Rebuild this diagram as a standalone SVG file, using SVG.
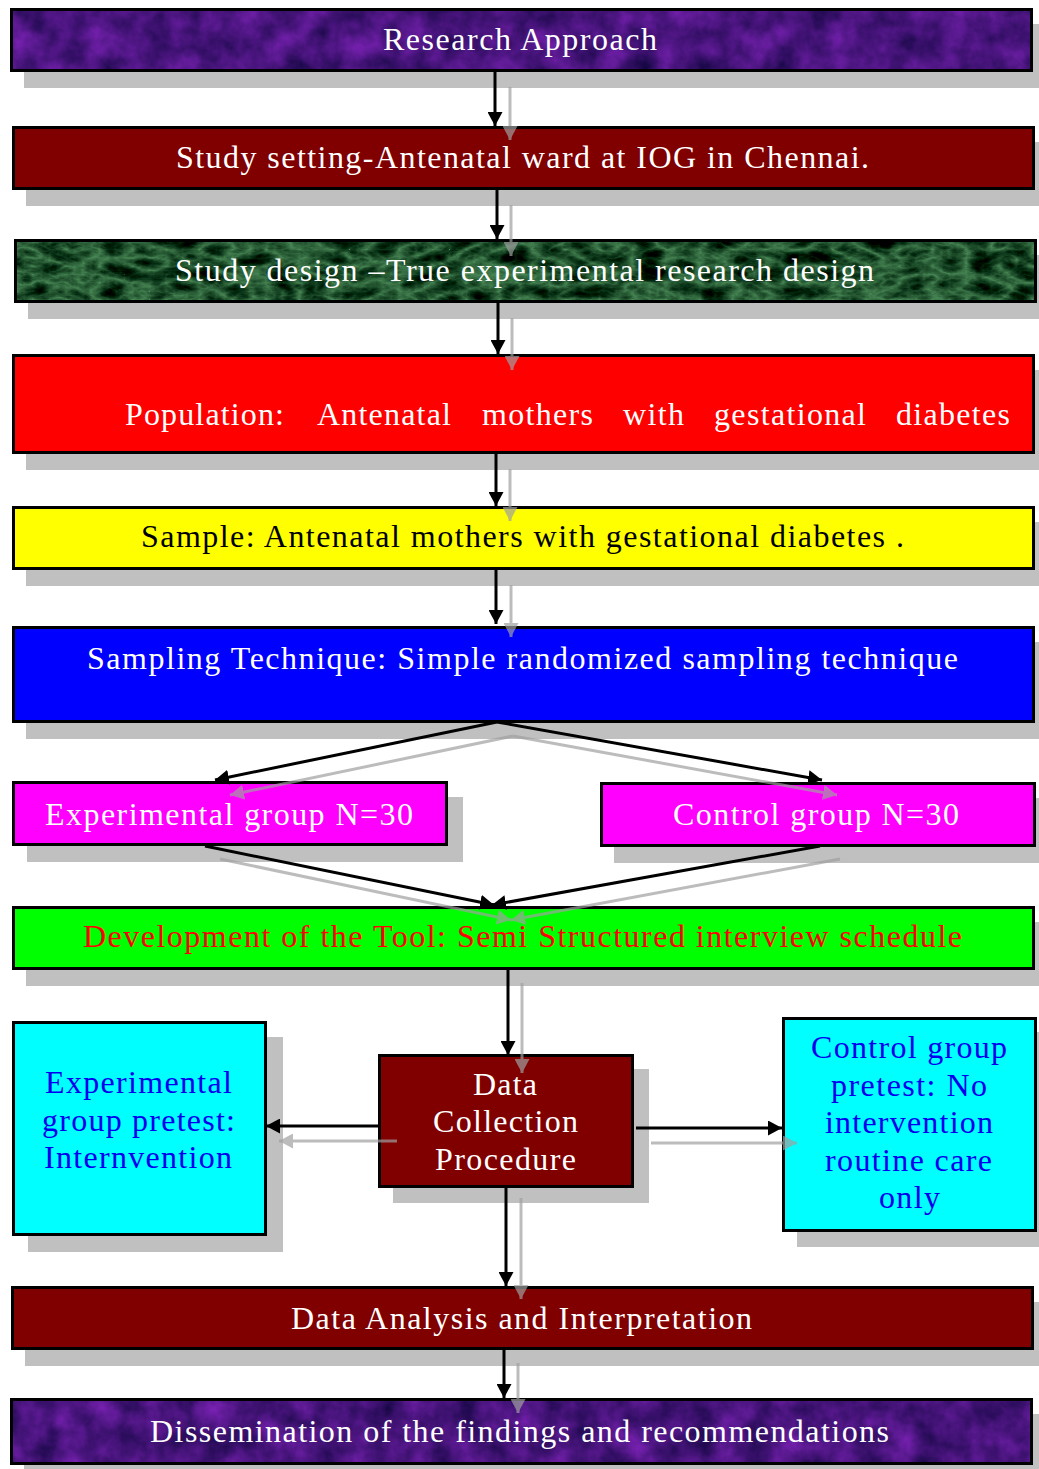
<svg xmlns="http://www.w3.org/2000/svg" width="1039" height="1469" viewBox="0 0 1039 1469">
<style>
.sh{fill:#c0c0c0}
.bx{stroke:#000;stroke-width:3}
.t{font-family:"Liberation Serif","Times New Roman",serif;font-size:32px}
.w{fill:#fff}
.k{fill:#000}
.r{fill:#ff0000}
.b{fill:#0000ee}
.c{fill:none;stroke:#000;stroke-width:3}
.g{fill:none;stroke:#a0a0a0;stroke-width:3}
</style>
<defs>
<marker id="ah" markerUnits="userSpaceOnUse" markerWidth="14" markerHeight="15" viewBox="0 0 14 15" refX="14" refY="7.5" orient="auto"><path d="M0,0 L14,7.5 L0,15 z" fill="#000"/></marker>
<marker id="ag" markerUnits="userSpaceOnUse" markerWidth="14" markerHeight="15" viewBox="0 0 14 15" refX="14" refY="7.5" orient="auto"><path d="M0,0 L14,7.5 L0,15 z" fill="#a0a0a0"/></marker>
<filter id="purple" x="0" y="0" width="1" height="1" color-interpolation-filters="sRGB">
<feTurbulence type="fractalNoise" baseFrequency="0.035" numOctaves="4" seed="3" result="n"/>
<feColorMatrix in="n" type="matrix" values="0.45 0 0 0 0.06  0.12 0 0 0 0.02  0.5 0 0 0 0.24  0 0 0 0 1" result="c"/>
<feComposite in="c" in2="SourceGraphic" operator="in"/>
</filter>
<filter id="marble" x="0" y="0" width="1" height="1" color-interpolation-filters="sRGB">
<feTurbulence type="turbulence" baseFrequency="0.03 0.06" numOctaves="4" seed="7" result="n"/>
<feColorMatrix in="n" type="matrix" values="-0.6 0 0 0 0.3  -0.8 0 0 0 0.55  -0.6 0 0 0 0.35  0 0 0 0 1" result="c"/>
<feComposite in="c" in2="SourceGraphic" operator="in"/>
</filter>
</defs>
<rect width="1039" height="1469" fill="#fff"/>

<g id="shadows">
<rect class="sh" x="24" y="24" width="1023" height="64"/>
<rect class="sh" x="26" y="142" width="1023" height="64"/>
<rect class="sh" x="28" y="255" width="1023" height="64"/>
<rect class="sh" x="26" y="370" width="1023" height="100"/>
<rect class="sh" x="26" y="522" width="1023" height="64"/>
<rect class="sh" x="26" y="642" width="1023" height="97"/>
<rect class="sh" x="27" y="797" width="436" height="65"/>
<rect class="sh" x="614" y="798" width="436" height="65"/>
<rect class="sh" x="26" y="922" width="1023" height="64"/>
<rect class="sh" x="28" y="1037" width="255" height="215"/>
<rect class="sh" x="393" y="1069" width="256" height="134"/>
<rect class="sh" x="797" y="1032" width="255" height="215"/>
<rect class="sh" x="25" y="1302" width="1023" height="64"/>
<rect class="sh" x="24" y="1414" width="1023" height="60"/>
</g>

<g id="n1">
<rect x="11.5" y="9.5" width="1020" height="61" fill="#4b1a80"/>
<rect x="11.5" y="9.5" width="1020" height="61" fill="#4b1a80" filter="url(#purple)"/>
<rect class="bx" x="11.5" y="9.5" width="1020" height="61" fill="none"/>
</g>
<g id="n2"><rect class="bx" x="13.5" y="127.5" width="1020" height="61" fill="#800000"/></g>
<g id="n3">
<rect x="15.5" y="240.5" width="1020" height="61" fill="#1f5532"/>
<rect x="15.5" y="240.5" width="1020" height="61" fill="#1f5532" filter="url(#marble)"/>
<rect class="bx" x="15.5" y="240.5" width="1020" height="61" fill="none"/>
</g>
<g id="n4"><rect class="bx" x="13.5" y="355.5" width="1020" height="97" fill="#ff0000"/></g>
<g id="n5"><rect class="bx" x="13.5" y="507.5" width="1020" height="61" fill="#ffff00"/></g>
<g id="n6"><rect class="bx" x="13.5" y="627.5" width="1020" height="94" fill="#0000ff"/></g>
<g id="n7"><rect class="bx" x="13.5" y="782.5" width="433" height="62" fill="#ff00ff"/></g>
<g id="n8"><rect class="bx" x="601.5" y="783.5" width="433" height="62" fill="#ff00ff"/></g>
<g id="n9"><rect class="bx" x="13.5" y="907.5" width="1020" height="61" fill="#00ff00"/></g>
<g id="n10"><rect class="bx" x="13.5" y="1022.5" width="252" height="212" fill="#00ffff"/></g>
<g id="n11"><rect class="bx" x="379.5" y="1055.5" width="253" height="131" fill="#800000"/></g>
<g id="n12"><rect class="bx" x="783.5" y="1018.5" width="252" height="212" fill="#00ffff"/></g>
<g id="n13"><rect class="bx" x="12.5" y="1287.5" width="1020" height="61" fill="#800000"/></g>
<g id="n14">
<rect x="11.5" y="1399.5" width="1020" height="64" fill="#4b1a80"/>
<rect x="11.5" y="1399.5" width="1020" height="64" fill="#4b1a80" filter="url(#purple)"/>
<rect class="bx" x="11.5" y="1399.5" width="1020" height="64" fill="none"/>
</g>

<g id="connectors">
<line class="c" x1="495" y1="72" x2="495" y2="126" marker-end="url(#ah)"/>
<line class="c" x1="497" y1="190" x2="497" y2="239" marker-end="url(#ah)"/>
<line class="c" x1="498" y1="303" x2="498" y2="354" marker-end="url(#ah)"/>
<line class="c" x1="496" y1="454" x2="496" y2="506" marker-end="url(#ah)"/>
<line class="c" x1="496" y1="570" x2="496" y2="624" marker-end="url(#ah)"/>
<line class="c" x1="497" y1="722" x2="215" y2="780" marker-end="url(#ah)"/>
<line class="c" x1="497" y1="722" x2="822" y2="780" marker-end="url(#ah)"/>
<line class="c" x1="205" y1="846" x2="494" y2="905" marker-end="url(#ah)"/>
<line class="c" x1="820" y1="846" x2="492" y2="905" marker-end="url(#ah)"/>
<line class="c" x1="508" y1="970" x2="508" y2="1055" marker-end="url(#ah)"/>
<line class="c" x1="380" y1="1126" x2="266" y2="1126" marker-end="url(#ah)"/>
<line class="c" x1="636" y1="1128" x2="782" y2="1128" marker-end="url(#ah)"/>
<line class="c" x1="506" y1="1188" x2="506" y2="1286" marker-end="url(#ah)"/>
<line class="c" x1="504" y1="1350" x2="504" y2="1398" marker-end="url(#ah)"/>
<g opacity="0.7">
<line class="g" x1="510" y1="87" x2="510" y2="140" marker-end="url(#ag)"/>
<line class="g" x1="511" y1="205" x2="511" y2="256" marker-end="url(#ag)"/>
<line class="g" x1="512" y1="318" x2="512" y2="370" marker-end="url(#ag)"/>
<line class="g" x1="510" y1="469" x2="510" y2="521" marker-end="url(#ag)"/>
<line class="g" x1="511" y1="585" x2="511" y2="637" marker-end="url(#ag)"/>
<line class="g" x1="513" y1="736" x2="230" y2="795" marker-end="url(#ag)"/>
<line class="g" x1="513" y1="736" x2="837" y2="795" marker-end="url(#ag)"/>
<line class="g" x1="220" y1="859" x2="511" y2="920" marker-end="url(#ag)"/>
<line class="g" x1="840" y1="859" x2="511" y2="920" marker-end="url(#ag)"/>
<line class="g" x1="522" y1="983" x2="522" y2="1073" marker-end="url(#ag)"/>
<line class="g" x1="397" y1="1141" x2="279" y2="1141" marker-end="url(#ag)"/>
<line class="g" x1="651" y1="1143" x2="797" y2="1143" marker-end="url(#ag)"/>
<line class="g" x1="521" y1="1198" x2="521" y2="1299" marker-end="url(#ag)"/>
<line class="g" x1="518" y1="1363" x2="518" y2="1413" marker-end="url(#ag)"/>
</g>
</g>

<g id="labels">
<text class="t w" x="383" y="50" textLength="274" lengthAdjust="spacing">Research Approach</text>
<text class="t w" x="176" y="168" textLength="693" lengthAdjust="spacing">Study setting-Antenatal ward at IOG in Chennai.</text>
<text class="t w" x="175" y="281" textLength="699" lengthAdjust="spacing">Study design –True experimental research design</text>
<text class="t w" x="125" y="425" textLength="159" lengthAdjust="spacing">Population:</text>
<text class="t w" x="317" y="425" textLength="134" lengthAdjust="spacing">Antenatal</text>
<text class="t w" x="482" y="425" textLength="111" lengthAdjust="spacing">mothers</text>
<text class="t w" x="623" y="425" textLength="61" lengthAdjust="spacing">with</text>
<text class="t w" x="714" y="425" textLength="152" lengthAdjust="spacing">gestational</text>
<text class="t w" x="896" y="425" textLength="114" lengthAdjust="spacing">diabetes</text>
<text class="t k" x="141" y="547" textLength="763" lengthAdjust="spacing">Sample: Antenatal mothers with gestational diabetes .</text>
<text class="t w" x="87" y="669" textLength="871" lengthAdjust="spacing">Sampling Technique: Simple randomized sampling technique</text>
<text class="t w" x="45" y="825" textLength="368" lengthAdjust="spacing">Experimental group N=30</text>
<text class="t w" x="673" y="825" textLength="286" lengthAdjust="spacing">Control group N=30</text>
<text class="t r" x="83" y="947" textLength="879" lengthAdjust="spacing">Development of the Tool: Semi Structured interview schedule</text>
<text class="t b" x="45" y="1093" textLength="187" lengthAdjust="spacing">Experimental</text>
<text class="t b" x="42" y="1131" textLength="193" lengthAdjust="spacing">group pretest:</text>
<text class="t b" x="44" y="1168" textLength="188" lengthAdjust="spacing">Internvention</text>
<text class="t w" x="473" y="1095" textLength="64" lengthAdjust="spacing">Data</text>
<text class="t w" x="433" y="1132" textLength="145" lengthAdjust="spacing">Collection</text>
<text class="t w" x="435" y="1170" textLength="141" lengthAdjust="spacing">Procedure</text>
<text class="t b" x="811" y="1058" textLength="196" lengthAdjust="spacing">Control group</text>
<text class="t b" x="831" y="1096" textLength="156" lengthAdjust="spacing">pretest: No</text>
<text class="t b" x="825" y="1133" textLength="168" lengthAdjust="spacing">intervention</text>
<text class="t b" x="825" y="1171" textLength="167" lengthAdjust="spacing">routine care</text>
<text class="t b" x="879" y="1208" textLength="61" lengthAdjust="spacing">only</text>
<text class="t w" x="291" y="1329" textLength="461" lengthAdjust="spacing">Data Analysis and Interpretation</text>
<text class="t w" x="150" y="1442" textLength="739" lengthAdjust="spacing">Dissemination of the findings and recommendations</text>
</g>
</svg>
